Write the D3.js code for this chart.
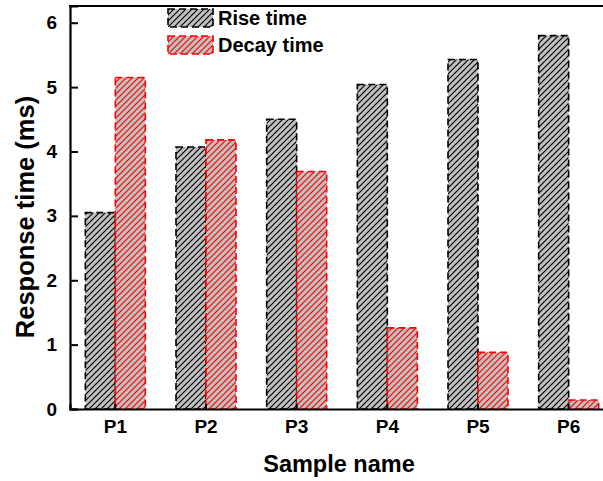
<!DOCTYPE html>
<html>
<head>
<meta charset="utf-8">
<script src="https://cdn.jsdelivr.net/npm/d3@7"></script>
<style>
  body { margin: 0; background: #fff; }
  text { font-family: Arial, "Liberation Sans", sans-serif; font-weight: bold; }
</style>
</head>
<body>
<div id="chart"></div>
<script>
const samples = ['P1', 'P2', 'P3', 'P4', 'P5', 'P6']
const riseTime = [3.05, 4.07, 4.5, 5.04, 5.43, 5.8]
const decayTime = [5.15, 4.18, 3.69, 1.26, 0.88, 0.14]
const yTicks = [0, 1, 2, 3, 4, 5, 6]

const W = 603
const H = 481
const mLeft = 70, mTop = 6, mBottom = 409, mRight = 614

const svg = d3.select('#chart').append('svg').attr('width', W).attr('height', H)

// hatch patterns
const defs = svg.append('defs')
function hatch(id, color) {
  const p = defs.append('pattern')
    .attr('id', id)
    .attr('patternUnits', 'userSpaceOnUse')
    .attr('width', 6).attr('height', 6)
  p.append('rect').attr('width', 6).attr('height', 6).attr('fill', '#c0c0c0')
  p.append('path')
    .attr('d', 'M-1,1 l2,-2 M0,6 l6,-6 M5,7 l2,-2')
    .attr('stroke', color).attr('stroke-width', 1.2)
}
hatch('hatchBlack', '#000')
hatch('hatchRed', '#ff0000')

const x = d3.scaleBand(samples, [mLeft, mRight]).padding(0)
const y = d3.scaleLinear([0, 6.26], [mBottom, mTop])
const barW = 30

const series = [
  { name: 'Rise time', values: riseTime, fill: 'url(#hatchBlack)', stroke: '#000', dx: -barW },
  { name: 'Decay time', values: decayTime, fill: 'url(#hatchRed)', stroke: '#ff0000', dx: 0 }
]

series.forEach((s) => {
  svg.append('g')
    .selectAll('rect')
    .data(s.values)
    .enter()
    .append('rect')
    .attr('x', (d, i) => x(samples[i]) + x.bandwidth() / 2 + s.dx)
    .attr('y', (d) => y(d))
    .attr('width', barW)
    .attr('height', (d) => y(0) - y(d))
    .attr('fill', s.fill)
    .attr('stroke', s.stroke)
    .attr('stroke-width', 1.6)
    .attr('stroke-dasharray', '7,4')
})

// axes (inward ticks)
const yAxis = svg.append('g')
  .attr('transform', `translate(${mLeft},0)`)
  .call(d3.axisLeft(y).tickValues(yTicks).tickSize(-8).tickPadding(13).tickFormat(d3.format('d')))
const xAxis = svg.append('g')
  .attr('transform', `translate(0,${mBottom})`)
  .call(d3.axisBottom(x).tickSize(-5).tickPadding(11))

;[yAxis, xAxis].forEach((a) => {
  a.select('.domain').attr('stroke', '#000').attr('stroke-width', 2.2)
  a.selectAll('.tick line').attr('stroke', '#000').attr('stroke-width', 2)
  a.selectAll('.tick text').attr('fill', '#000').style('font-size', '19px').style('font-weight', 'bold')
    .style('font-family', 'Arial, "Liberation Sans", sans-serif')
})
xAxis.selectAll('.tick text').attr('dy', '0.71em')

// top frame line
svg.append('line')
  .attr('x1', mLeft - 1).attr('x2', mRight)
  .attr('y1', mTop).attr('y2', mTop)
  .attr('stroke', '#000').attr('stroke-width', 2.2)

// axis titles
svg.append('text')
  .attr('x', 339).attr('y', 472)
  .attr('text-anchor', 'middle')
  .style('font-size', '23.5px')
  .text('Sample name')

svg.append('text')
  .attr('transform', 'translate(34,217) rotate(-90)')
  .attr('text-anchor', 'middle')
  .style('font-size', '25.5px')
  .text('Response time (ms)')

// legend
const legend = svg.append('g')
series.forEach((s, i) => {
  const g = legend.append('g').attr('transform', `translate(168,${9 + i * 27})`)
  g.append('rect')
    .attr('width', 45).attr('height', 18)
    .attr('fill', s.fill)
    .attr('stroke', s.stroke)
    .attr('stroke-width', 1.6)
    .attr('stroke-dasharray', '7,4')
  g.append('text')
    .attr('x', 50).attr('y', 16)
    .style('font-size', '20px')
    .text(s.name)
})
</script>
</body>
</html>
